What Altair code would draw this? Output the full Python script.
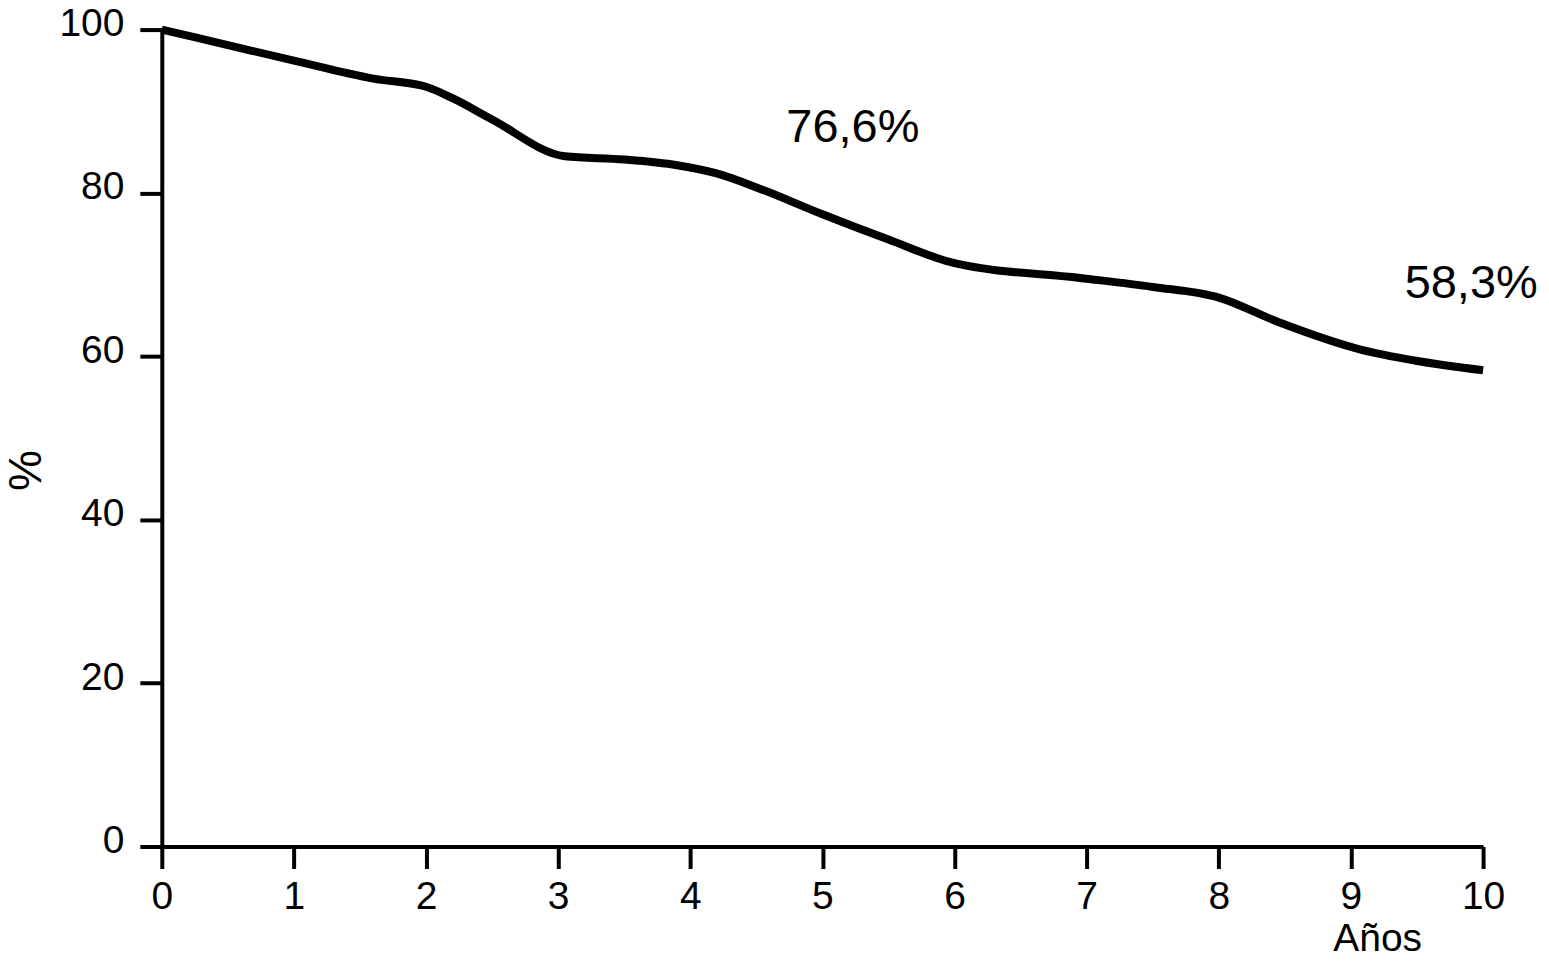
import altair as alt
import pandas as pd

# Survival curve values
years = [0, 0.5, 1.0, 1.6, 2.0, 2.2, 2.5, 3.05, 3.5, 3.9, 4.2, 4.53, 5.0, 5.5, 6.0, 6.95, 7.5, 8.0, 8.45, 9.08, 9.48, 10.0]
pct = [100, 98.1, 96.2, 94.0, 93.0, 91.6, 89.0, 84.5, 84.1, 83.4, 82.4, 80.5, 77.4, 74.3, 71.4, 69.6, 68.5, 67.2, 64.2, 60.8, 59.5, 58.3]

label_text = ["76,6%", "58,3%"]
label_x = [5.23, 9.91]
label_y = [86.3, 67.1]

x_ticks = list(range(0, 11))
y_ticks = [0, 20, 40, 60, 80, 100]

FONT = "Liberation Sans"

curve = pd.DataFrame({"x": years, "y": pct})
labels = pd.DataFrame({"x": label_x, "y": label_y, "t": label_text})

xscale = alt.Scale(domain=[0, 10], nice=False, zero=False)
yscale = alt.Scale(domain=[0, 100], nice=False)

line = alt.Chart(curve).mark_line(
    color="black", strokeWidth=8, interpolate="monotone", strokeCap="butt", clip=False
).encode(
    x=alt.X("x:Q", scale=xscale, axis=alt.Axis(
        values=x_ticks, title="Años", format="d", labelFlush=False,
        titleX=1217, titleY=104, titleAnchor="start", titleAlign="center",
        titleBaseline="alphabetic", titleFontSize=39, titleFontWeight="normal",
        titleFont=FONT, titleColor="black",
    )),
    y=alt.Y("y:Q", scale=yscale, axis=alt.Axis(
        values=y_ticks, title="%", format="d", labelFlush=False,
        titleX=-135, titleY=441, titleAngle=270, titleAlign="center",
        titleBaseline="middle", titleFontSize=46, titleFontWeight="normal",
        titleFont=FONT, titleColor="black", labelOffset=-6,
    )),
)

text = alt.Chart(labels).mark_text(
    font=FONT, fontSize=47, color="black", align="center", baseline="alphabetic"
).encode(
    x=alt.X("x:Q", scale=xscale),
    y=alt.Y("y:Q", scale=yscale),
    text="t:N",
)

chart = (line + text).properties(
    width=1323, height=818,
    autosize=alt.AutoSizeParams(type="none"),
    padding={"left": 154, "top": 21, "right": 58, "bottom": 108},
).configure_view(stroke=None).configure_axis(
    grid=False,
    domainColor="black", domainWidth=4,
    tickColor="black", tickWidth=4, tickSize=22,
    labelFont=FONT, labelFontSize=39, labelColor="black",
).configure_axisY(labelPadding=16).configure_axisX(labelPadding=9)

chart.save("out.html", embed_options={"renderer": "svg", "actions": False})
